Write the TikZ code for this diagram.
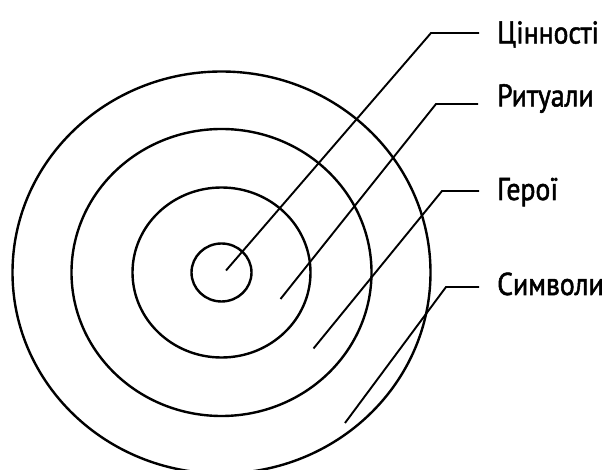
\documentclass[tikz,border=0pt]{standalone}
\usepackage{fontspec}
\setmainfont[FakeStretch=0.88,FakeBold=1.6]{PT Sans}
\usetikzlibrary{positioning}

\begin{document}
\begin{tikzpicture}[x=1pt,y=-1pt,
ring/.style={draw=black,line width=2.4pt},
lead/.style={draw=black,line width=1.9pt},
lbl/.style={font=\fontsize{31.5}{33}\selectfont,anchor=base west,inner sep=0pt}
]
\useasboundingbox (0,0) rectangle (611,470);
\coordinate (c) at (221.5,272.5);
% rings, from the core outwards
\draw[ring] (c) ellipse [x radius=30,y radius=29];
\draw[ring] (c) ellipse [x radius=89,y radius=85];
\draw[ring] (c) ellipse [x radius=150,y radius=143.5];
\draw[ring] (c) ellipse [x radius=209,y radius=201];
% leader ends
\coordinate (s1) at (226,270.5);
\coordinate (s2) at (280.5,299);
\coordinate (s3) at (313.5,348.5);
\coordinate (s4) at (345,423);
\coordinate (k1) at (431,33);
\coordinate (k2) at (436,104);
\coordinate (k3) at (442,191);
\coordinate (k4) at (446,287);
\coordinate (e1) at (479,33);
\coordinate (e2) at (478,104);
\coordinate (e3) at (479,191);
\coordinate (e4) at (479,287);
% labels
\node[lbl] (l1) at (497,43.5) {Цінності};
\node[lbl] (l2) at (497,106.5) {Ритуали};
\node[lbl] (l3) at (497,200) {Герої};
\node[lbl] (l4) at (497,295) {Символи};
\draw[lead] (s1) -- (k1) -- (e1);
\draw[lead] (s2) -- (k2) -- (e2);
\draw[lead] (s3) -- (k3) -- (e3);
\draw[lead] (s4) -- (k4) -- (e4);
\end{tikzpicture}
\end{document}
